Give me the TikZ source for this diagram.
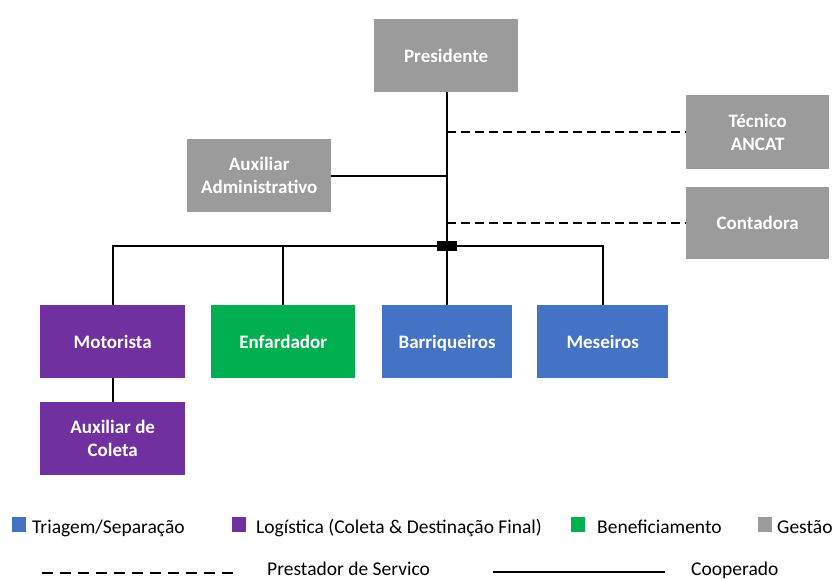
\documentclass[tikz,border=0pt]{standalone}
\usepackage{fontspec}
\setmainfont{Carlito}
\definecolor{gestao}{HTML}{9B9B9B}
\definecolor{logist}{HTML}{7030A0}
\definecolor{benef}{HTML}{00B050}
\definecolor{triag}{HTML}{4472C4}
\tikzset{
  box/.style={draw=none, fill=#1, text=white, font=\fontsize{19}{23}\selectfont\bfseries, align=center, inner sep=0pt, anchor=north west},
  solidline/.style={line width=1.6pt, black},
  dashline/.style={line width=2pt, black, dash pattern=on 9pt off 5pt},
  legdash/.style={line width=2pt, black, dash pattern=on 11pt off 7pt},
  legtext/.style={font=\fontsize{19.5}{23}\selectfont, anchor=base west, inner sep=0pt},
  legsq/.style={fill=#1, minimum width=14pt, minimum height=15pt, inner sep=0pt, anchor=west}
}
\begin{document}
\begin{tikzpicture}[x=1pt,y=-1pt]
\useasboundingbox (0,0) rectangle (834,580);
% boxes
\node[box=gestao, minimum width=144pt, minimum height=73pt] (pres) at (374,19) {Presidente};
\node[box=gestao, minimum width=143pt, minimum height=74pt] (tec) at (686,95) {Técnico\\ANCAT};
\node[box=gestao, minimum width=143pt, minimum height=72pt] (cont) at (686,187) {Contadora};
\node[box=gestao, minimum width=144pt, minimum height=73pt] (aux) at (187,139) {Auxiliar\\Administrativo};
\node[box=logist, minimum width=145pt, minimum height=73pt] (mot) at (40,305) {Motorista};
\node[box=benef, minimum width=144pt, minimum height=73pt] (enf) at (211,305) {Enfardador};
\node[box=triag, minimum width=130pt, minimum height=73pt] (bar) at (382,305) {\raisebox{0pt}[\height][0pt]{Barriqueiros}};
\node[box=triag, minimum width=131pt, minimum height=73pt] (mes) at (537,305) {Meseiros};
\node[box=logist, minimum width=145pt, minimum height=73pt] (auxc) at (40,402) {Auxiliar de\\Coleta};
% junction
\coordinate (j) at (447,246);
\coordinate (jt) at (447,132);
\coordinate (jc) at (447,223);
\coordinate (ja) at (447,176);
\draw[solidline] (pres.south -| j) -- (j) -- (bar.north -| j);
\draw[solidline] (aux.east |- ja) -- (ja);
\draw[dashline] (jt) -- (tec.west |- jt);
\draw[dashline] (jc) -- (cont.west |- jc);
\draw[solidline] (mot.north) -- (mot.north |- j) -- (mes.north |- j) -- (mes.north);
\draw[solidline] (enf.north) -- (enf.north |- j);
\draw[solidline] (mot.south) -- (auxc.north);
\node[fill=black, minimum width=20pt, minimum height=10pt, inner sep=0pt] (jb) at (j) {};
% legend
\node[legsq=triag] (l1) at (12,524.5) {};
\node[legtext] (t1) at (32,533) {Triagem/Separação};
\node[legsq=logist] (l2) at (232,524.5) {};
\node[legtext] (t2) at (256,533) {Logística (Coleta \& Destinação Final)};
\node[legsq=benef] (l3) at (571,524.5) {};
\node[legtext] (t3) at (597,533) {Beneficiamento};
\node[legsq=gestao] (l4) at (758,524.5) {};
\node[legtext] (t4) at (777,533) {Gestão};
\coordinate (d1) at (42,573);
\coordinate (d2) at (240,573);
\draw[legdash] (d1) -- (d2);
\node[legtext] (t5) at (267,575) {Prestador de Servico};
\coordinate (s1) at (493,572);
\coordinate (s2) at (665,572);
\draw[solidline] (s1) -- (s2);
\node[legtext] (t6) at (691,575) {Cooperado};
\end{tikzpicture}
\end{document}
